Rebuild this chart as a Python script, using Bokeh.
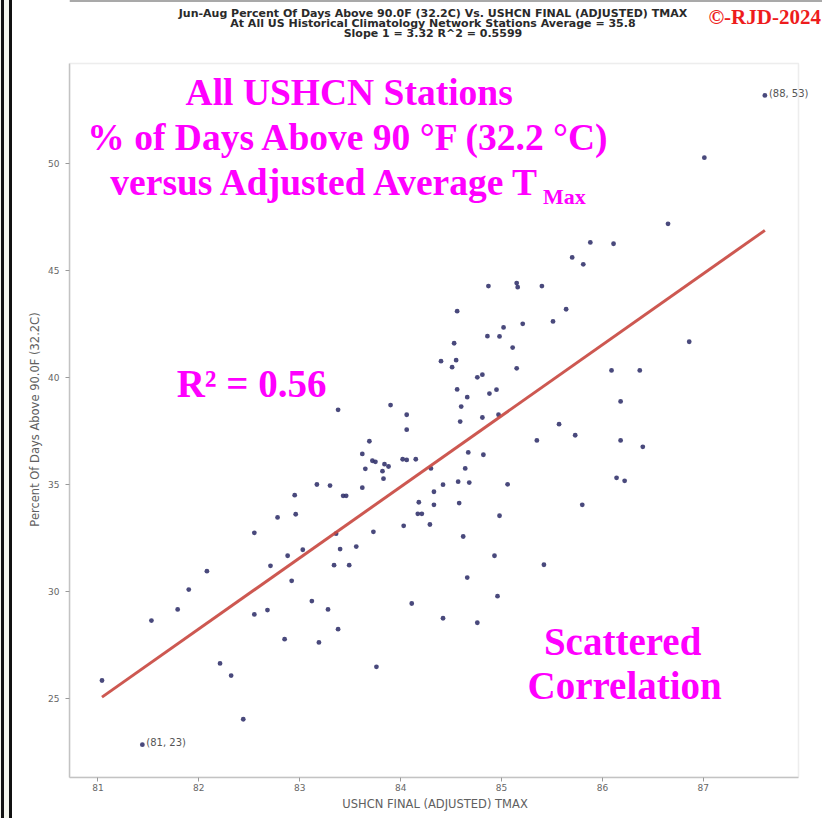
import numpy as np
from bokeh.plotting import figure
from bokeh.models import (Label, FixedTicker, ColumnDataSource, Div, Range1d,
                          BoxAnnotation, Span)
from bokeh.layouts import row, column
from bokeh.embed import file_html
from bokeh.resources import INLINE

# ---- data ----
tmax = [81.04, 81.53, 81.79, 81.90, 82.08, 82.21, 82.32, 82.44, 82.55, 82.55,
        82.68, 82.71, 82.78, 82.85, 82.88, 82.92, 82.95, 82.96, 83.03, 83.12,
        83.17, 83.19, 83.28, 83.30, 83.34, 83.36, 83.38, 83.40, 83.43, 83.46,
        83.49, 83.56, 83.62, 83.73, 83.76, 81.44, 83.38, 83.90, 84.06, 84.06,
        84.60, 84.66, 84.59, 83.69, 83.62, 83.72, 83.75, 83.84, 83.88, 83.65,
        83.82, 83.83, 84.02, 84.06, 84.15, 84.30, 84.67, 84.64, 84.57, 84.68,
        84.42, 84.33, 84.18, 84.33, 84.58, 84.17, 84.21, 84.29, 84.03, 84.62,
        84.87, 85.15, 85.16, 85.40, 84.56, 85.64, 85.51, 85.21, 85.02, 84.86,
        84.98, 84.53, 85.11, 84.40, 84.55, 84.51, 85.15, 84.76, 84.81, 84.56,
        84.88, 84.95, 84.81, 84.97, 85.57, 85.73, 85.35, 84.82, 85.06, 85.80,
        84.98, 84.93, 85.42, 84.66, 84.96, 84.42, 84.76, 86.65, 85.88, 86.11,
        85.70, 85.81, 86.86, 86.09, 86.37, 86.18, 86.18, 86.40, 86.14, 86.22,
        84.11, 87.61, 87.01]
pct = [25.84, 28.64, 29.16, 30.09, 30.95, 26.64, 26.07, 24.03, 32.74, 28.93,
       29.13, 31.20, 33.46, 27.77, 31.67, 30.50, 34.50, 33.61, 31.95, 29.55,
       35.00, 27.62, 29.16, 34.95, 31.23, 32.70, 28.24, 31.98, 34.47, 34.47,
       31.23, 32.10, 34.85, 32.79, 26.48, 22.84, 38.49, 38.71, 38.26, 37.56,
       38.64, 39.08, 37.94, 37.02, 36.43, 36.11, 36.06, 35.95, 35.84, 35.73,
       35.62, 35.27, 36.18, 36.15, 36.18, 35.75, 36.50, 35.75, 35.13, 35.09,
       34.99, 34.66, 34.17, 34.05, 34.13, 33.63, 33.63, 33.13, 33.07, 32.57,
       44.27, 44.41, 44.22, 44.27, 43.10, 43.19, 42.62, 42.51, 42.34, 41.93,
       41.92, 41.60, 41.40, 40.76, 40.81, 40.48, 40.43, 40.01, 40.13, 39.44,
       39.25, 39.43, 38.13, 38.26, 37.82, 37.30, 37.06, 36.39, 35.01, 34.05,
       33.54, 31.67, 31.25, 30.65, 29.78, 28.75, 28.54, 47.18, 46.31, 46.25,
       45.61, 45.29, 41.67, 40.33, 40.33, 38.88, 37.06, 36.76, 35.31, 35.17,
       29.44, 53.18, 50.27]
x_ticks = [81, 82, 83, 84, 85, 86, 87]
y_ticks = [25, 30, 35, 40, 45, 50]
slope = 3.32
intercept = -243.99
title_lines = [
    "Jun-Aug Percent Of Days Above 90.0F (32.2C) Vs. USHCN FINAL (ADJUSTED) TMAX",
    "At All US Historical Climatology Network Stations Average = 35.8",
    "Slope 1 = 3.32 R^2 = 0.5599",
]
x_label = "USHCN FINAL (ADJUSTED) TMAX"
y_label = "Percent Of Days Above 90.0F (32.2C)"
overlay_lines = ["All USHCN Stations", "% of Days Above 90 °F (32.2 °C)",
                 "versus Adjusted Average T"]
overlay_sub = "Max"
r2_text = "R² = 0.56"
note_lines = ["Scattered", "Correlation"]
copyright_text = "©-RJD-2024"

# axes box (plot area of the original chart)
X_LO, X_HI = 80.718, 87.943
Y_LO, Y_HI = 21.308, 54.673
X_VIEW_HI = 88.181      # frame runs a little past the box on the right
Y_VIEW_HI = 54.766      # main frame top, 2px above the box
Y_HEAD_HI = 57.617      # top of picture

# ---- header strip ----
head = figure(width=810, height=61, output_backend="svg", toolbar_location=None,
              x_range=Range1d(X_LO, X_VIEW_HI), y_range=Range1d(Y_VIEW_HI, Y_HEAD_HI),
              x_axis_type=None, y_axis_type=None,
              min_border_left=57, min_border_right=0, min_border_top=0,
              min_border_bottom=0)
head.border_fill_color = "white"
head.background_fill_color = "white"
head.outline_line_color = None
head.add_layout(Span(location=Y_HEAD_HI, dimension="width",
                     line_color="#555555", line_width=2))
for t, yy in zip(title_lines, [57.01, 56.54, 56.07]):
    head.add_layout(Label(x=84.32, y=yy, text=t, text_align="center",
                          text_baseline="middle", text_font="DejaVu Sans",
                          text_font_style="bold", text_font_size="11px",
                          text_color="#2a2a2a"))
head.add_layout(Label(x=87.05, y=56.85, text=copyright_text, text_align="left",
                      text_baseline="middle", text_font="Liberation Serif",
                      text_font_style="bold", text_font_size="21px",
                      text_color="#ee1c1c"))

# ---- main figure ----
p = figure(width=810, height=757, output_backend="svg", toolbar_location=None,
           x_range=Range1d(X_LO, X_VIEW_HI), y_range=Range1d(Y_LO, Y_VIEW_HI),
           min_border_left=57, min_border_right=0, min_border_top=0,
           min_border_bottom=41)
p.border_fill_color = "white"
p.background_fill_color = "white"
p.outline_line_color = None
p.xgrid.visible = False
p.ygrid.visible = False

for ax in (p.xaxis[0], p.yaxis[0]):
    ax.axis_line_color = "#c4c4c4"
    ax.axis_line_width = 1.5
    ax.major_tick_line_color = "#9a9a9a"
    ax.major_tick_out = 4
    ax.major_tick_in = 0
    ax.minor_tick_line_color = None
    ax.major_label_text_font = "DejaVu Sans"
    ax.major_label_text_font_size = "9px"
    ax.major_label_text_color = "#666666"
    ax.axis_label_text_font = "DejaVu Sans"
    ax.axis_label_text_font_size = "11.5px"
    ax.axis_label_text_font_style = "normal"
    ax.axis_label_text_color = "#606060"
    ax.axis_label_standoff = 3

p.xaxis[0].bounds = (X_LO, X_HI)
p.yaxis[0].bounds = (Y_LO, Y_HI)
p.xaxis[0].ticker = FixedTicker(ticks=x_ticks)
p.yaxis[0].ticker = FixedTicker(ticks=y_ticks)
p.xaxis[0].major_label_standoff = 2
p.yaxis[0].major_label_standoff = 6
# trailing no-break spaces keep the label centred under the box, not the wider frame
p.xaxis[0].axis_label = x_label + "\u00a0" * 6
p.yaxis[0].axis_label = y_label

# box spines
p.add_layout(BoxAnnotation(left=X_LO, right=X_HI, bottom=Y_LO, top=Y_HI,
                           fill_alpha=0, line_color="#c4c4c4", line_width=1.5))

src = ColumnDataSource(dict(x=tmax, y=pct))
p.scatter("x", "y", source=src, size=4.8, fill_color="#30306a",
          line_color=None, fill_alpha=0.88)

xs = np.array([min(tmax), max(tmax)])
p.line(xs, slope * xs + intercept, line_color="#c94a42", line_width=3,
       line_alpha=0.92)

# annotations of extreme points
i_min = int(np.argmin(pct))
i_max = int(np.argmax(pct))
for i in (i_min, i_max):
    txt = "(%d, %d)" % (round(tmax[i]), round(pct[i]))
    p.add_layout(Label(x=tmax[i], y=pct[i], text=txt, x_offset=4, y_offset=2,
                       text_font="DejaVu Sans", text_font_size="10px",
                       text_color="#555555", text_baseline="middle"))

mag = "#ff00ff"
def big(x, y, t, align="center", size="37.5px"):
    p.add_layout(Label(x=x, y=y, text=t, text_align=align,
                       text_baseline="middle", text_font="Liberation Serif",
                       text_font_style="bold", text_font_size=size,
                       text_color=mag))

big(83.49, 53.33, overlay_lines[0])
big(83.49, 51.23, overlay_lines[1])
big(85.40, 49.09, overlay_lines[2], align="right")
big(85.41, 48.48, overlay_sub, align="left", size="22px")
big(81.78, 39.74, r2_text, align="left", size="39px")
big(86.20, 27.66, note_lines[0], size="39px")
big(86.22, 25.61, note_lines[1], size="39px")

bar = Div(width=12, height=818, margin=(0, 0, 0, 0),
          styles={"background": "linear-gradient(to right, #f3f5ec 0px, #f3f5ec 1px, "
                                 "#111111 1px, #111111 4px, #f3f5ec 4px, #f3f5ec 9px, "
                                 "#111111 9px, #111111 12px)"})
layout = row(bar, column(head, p, spacing=0, margin=(0, 0, 0, 0)),
             spacing=0, margin=(0, 0, 0, 0))

open("out.html", "w").write(file_html(layout, INLINE))
